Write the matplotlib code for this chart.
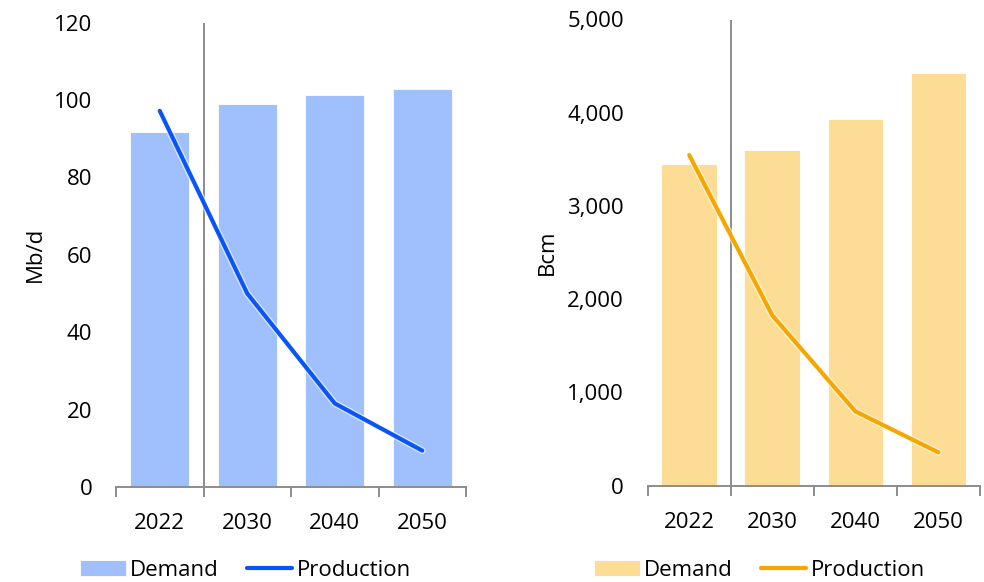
import matplotlib
matplotlib.use("Agg")
import matplotlib.pyplot as plt
import matplotlib.patheffects as pe
import numpy as np

years = ["2022", "2030", "2040", "2050"]

oil_demand = [91.7, 99.0, 101.2, 102.9]
oil_production = [97.2, 50.0, 21.6, 9.4]

gas_demand = [3445, 3605, 3930, 4430]
gas_production = [3545, 1825, 795, 355]

plt.rcParams["font.family"] = ["Open Sans", "DejaVu Sans"]
plt.rcParams["font.size"] = 16

W, H = 984, 582
fig = plt.figure(figsize=(W / 100, H / 100), dpi=100)


def frac_axes(x0, x1, ytop, ybot):
    return fig.add_axes([x0 / W, 1 - ybot / H, (x1 - x0) / W, (ybot - ytop) / H])


def draw_panel(ax, demand, production, bar_color, line_color, ylim, ticks, ticklabels, ylabel):
    x = np.arange(len(years))
    bars = ax.bar(x, demand, width=0.67, color=bar_color, label="Demand", zorder=1,
                  edgecolor="white", linewidth=0.6)
    line, = ax.plot(x, production, color=line_color, lw=3.0, solid_capstyle="round",
                    solid_joinstyle="round", label="Production", zorder=3,
                    path_effects=[pe.Stroke(linewidth=5.0, foreground="white", alpha=0.6),
                                  pe.Normal()])
    ax.axvline(0.5, color="#8c8c8c", lw=1.4, zorder=2)
    ax.set_xlim(-0.5, len(years) - 0.5)
    ax.set_ylim(*ylim)
    ax.set_yticks(ticks)
    ax.set_yticklabels(ticklabels)
    ax.set_xticks(x)
    ax.set_xticklabels(years)
    ax.set_xticks(np.arange(-0.5, len(years), 1.0), minor=True)
    ax.tick_params(axis="x", which="major", length=0, pad=19, labelsize=16)
    ax.tick_params(axis="x", which="minor", length=7, width=1.4, color="#8c8c8c", direction="out")
    ax.tick_params(axis="y", length=0, pad=17, labelsize=16)
    for s in ("left", "right", "top"):
        ax.spines[s].set_visible(False)
    ax.spines["bottom"].set_color("#8c8c8c")
    ax.spines["bottom"].set_linewidth(1.4)
    ax.set_ylabel(ylabel, fontsize=16)
    ax.patch.set_alpha(0)
    return [bars, line]


ax1 = frac_axes(116, 466, 22.6, 487)
h1 = draw_panel(ax1, oil_demand, oil_production, "#9fbffd", "#0a55fa",
                (0, 120), [0, 20, 40, 60, 80, 100, 120],
                ["0", "20", "40", "60", "80", "100", "120"], "Mb/d")
ax1.yaxis.set_label_coords(-(116 - 46) / 350, 0.5)

ax2 = frac_axes(647.7, 980, 19.5, 485.5)
h2 = draw_panel(ax2, gas_demand, gas_production, "#fddc96", "#f5a700",
                (0, 5000), [0, 1000, 2000, 3000, 4000, 5000],
                ["0", "1,000", "2,000", "3,000", "4,000", "5,000"], "Bcm")
ax2.yaxis.set_label_coords(-(647.7 - 558) / 332.3, 0.5)

for handles, x0 in ((h1, 80), (h2, 594)):
    fig.legend(handles, ["Demand", "Production"], loc="center left",
               bbox_to_anchor=(x0 / W, 1 - 570 / H),
               ncol=2, frameon=False, fontsize=16, borderpad=0, borderaxespad=0,
               handlelength=2.05, handletextpad=0.2, columnspacing=1.25)

fig.savefig("out.png", dpi=100)
